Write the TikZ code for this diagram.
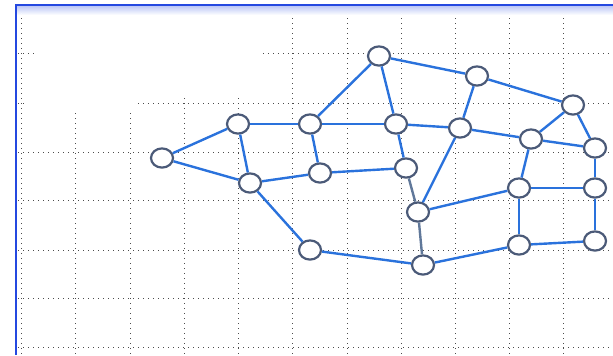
\documentclass[tikz,border=0pt]{standalone}
\usetikzlibrary{shapes.geometric}
\definecolor{netblue}{HTML}{2A72DC}
\definecolor{netgray}{HTML}{4B5A78}
\definecolor{netlink}{HTML}{60789A}
\definecolor{frameblue}{HTML}{2448E0}
\begin{document}
\begin{tikzpicture}[
  x=0.5pt,y=-0.5pt,
  V/.style={draw=netgray,line width=1.1pt,ellipse,fill=white,
            minimum width=11pt,minimum height=9.6pt,inner sep=0pt},
  E/.style={netblue,line width=1.2pt},
  Eg/.style={netlink,line width=1.2pt},
  G/.style={black!70,line width=0.5pt,dash pattern=on 0.5pt off 2pt}
]
\useasboundingbox (0,0) rectangle (613,355);
% grid
\foreach \x in {21.5,75.7,130,184,238,292.5,347,401,455,509,563.5}
  \draw[G] (\x,8) -- (\x,355);
\foreach \y in {7,53,103,152,200,250,298,347}
  \draw[G] (18,\y) -- (613,\y);
\fill[white] (35,11) rectangle (262,97);
\fill[white] (24,97) rectangle (138,110);
% frame
\shade[top color=frameblue!30,bottom color=white] (16,6) rectangle (613,15);
\draw[frameblue,line width=1.4pt] (16,355) -- (16,5) -- (613,5);

% nodes
\node[V](a) at (162,158){};
\node[V](b) at (238,124){};
\node[V](c) at (250,183){};
\node[V](d) at (310,124){};
\node[V](e) at (320,173){};
\node[V](f) at (310,250){};
\node[V](g) at (379,56){};
\node[V](h) at (396,124){};
\node[V](i) at (406,168){};
\node[V](j) at (418,212){};
\node[V](k) at (423,265){};
\node[V](l) at (477,76){};
\node[V](m) at (460,128){};
\node[V](n) at (573,105){};
\node[V](o) at (531,139){};
\node[V](p) at (595,148){};
\node[V](q) at (519,188){};
\node[V](r) at (595,188){};
\node[V](s) at (519,245){};
\node[V](t) at (595,241){};

% links
\foreach \u/\w in {a/b,a/c,b/d,b/c,d/g,d/h,d/e,c/e,c/f,g/h,g/l,h/m,h/i,
                   e/i,m/j,l/m,l/n,m/o,o/n,o/p,n/p,o/q,p/r,q/r,q/s,
                   q/j,s/t,r/t,s/k,k/f}
  \draw[E](\u)--(\w);
\draw[Eg](i)--(j);
\draw[Eg](j)--(k);
\end{tikzpicture}
\end{document}
